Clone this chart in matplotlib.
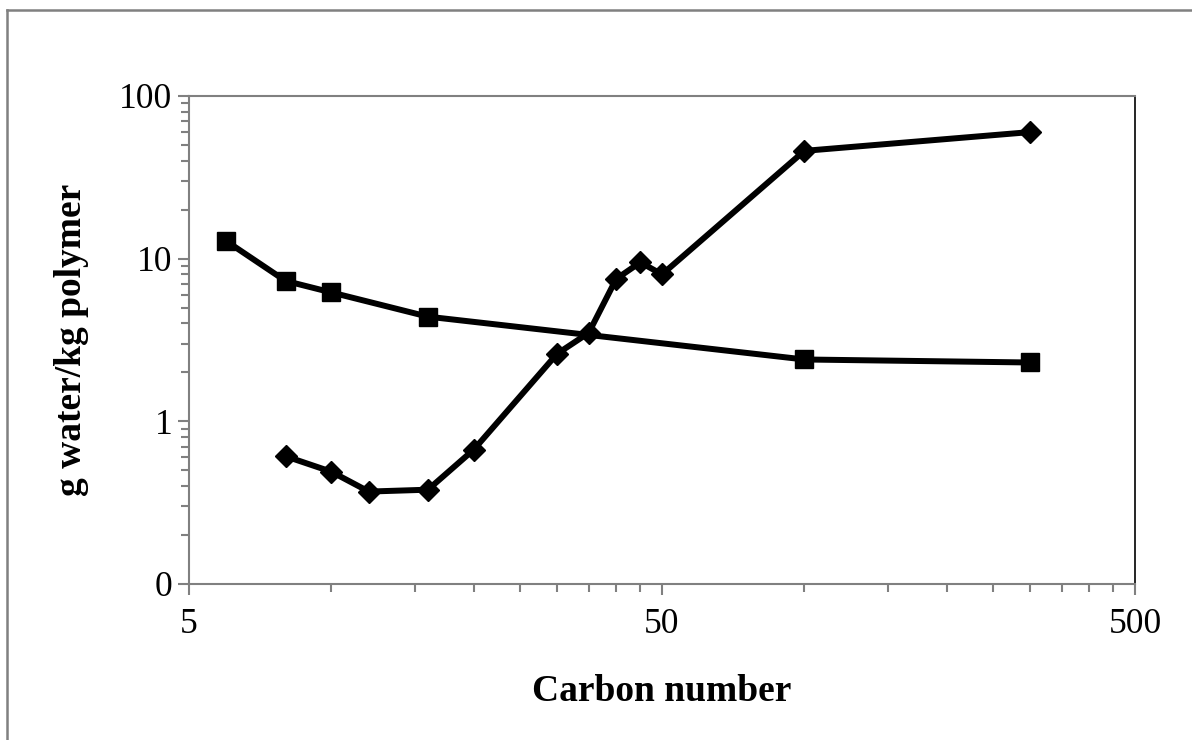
import matplotlib
matplotlib.use("Agg")
import matplotlib.pyplot as plt
from matplotlib.ticker import FixedLocator, FixedFormatter, LogLocator, NullFormatter
from matplotlib.lines import Line2D

plt.rcParams['font.family'] = ['Liberation Serif', 'DejaVu Serif']

# Data
square_x = [6, 8, 10, 16, 100, 300]
square_y = [12.8, 7.3, 6.2, 4.4, 2.4, 2.3]
diamond_x = [8, 10, 12, 16, 20, 30, 35, 40, 45, 50, 100, 300]
diamond_y = [0.61, 0.49, 0.37, 0.38, 0.67, 2.6, 3.5, 7.5, 9.5, 8.0, 46, 60]
x_ticks = [5, 50, 500]
x_tick_labels = ['5', '50', '500']
y_ticks = [0.1, 1, 10, 100]
y_tick_labels = ['0', '1', '10', '100']

fig = plt.figure(figsize=(11.92, 7.40), dpi=100)
ax = fig.add_axes([189/1192, 1 - 584/740, (1135 - 189)/1192, (584 - 96)/740])

ax.plot(square_x, square_y, color='black', lw=4.3, marker='s', ms=13,
        solid_joinstyle='miter', zorder=3)
ax.plot(diamond_x, diamond_y, color='black', lw=4.3, marker='D', ms=11,
        solid_joinstyle='miter', zorder=3)

ax.set_xscale('log')
ax.set_yscale('log')
ax.set_xlim(5, 500)
ax.set_ylim(0.1, 100)

# minor x ticks at multiples of the first major tick (Excel style)
x_minor = [m * k for m in (5, 50) for k in range(2, 10)]
ax.xaxis.set_major_locator(FixedLocator(x_ticks))
ax.xaxis.set_major_formatter(FixedFormatter(x_tick_labels))
ax.xaxis.set_minor_locator(FixedLocator(x_minor))
ax.xaxis.set_minor_formatter(NullFormatter())
ax.yaxis.set_major_locator(FixedLocator(y_ticks))
ax.yaxis.set_major_formatter(FixedFormatter(y_tick_labels))
ax.yaxis.set_minor_locator(LogLocator(base=10, subs=range(2, 10)))
ax.yaxis.set_minor_formatter(NullFormatter())

gray = '#808080'
for s in ['left', 'bottom', 'top']:
    ax.spines[s].set_color(gray)
    ax.spines[s].set_linewidth(1.5)
ax.spines['right'].set_color('black')
ax.spines['right'].set_linewidth(1.2)

ax.tick_params(which='both', direction='out', color=gray, width=1.5,
               labelsize=25.5, colors=gray, labelcolor='black')
ax.tick_params(axis='y', which='major', length=8, pad=4)
ax.tick_params(axis='x', which='major', length=8, pad=9)
ax.tick_params(axis='y', which='minor', length=6)
ax.tick_params(axis='x', which='minor', length=6)

ax.set_xlabel('Carbon number', fontsize=27, fontweight='bold', labelpad=24)
ax.set_ylabel('g water/kg polymer', fontsize=27, fontweight='bold', labelpad=22)

# outer frame (top and left visible)
fig.add_artist(Line2D([7/1192, 7/1192], [0, 1 - 10/740], transform=fig.transFigure,
                      color=gray, lw=1.8))
fig.add_artist(Line2D([7/1192, 1], [1 - 10/740, 1 - 10/740], transform=fig.transFigure,
                      color=gray, lw=1.8))

fig.savefig('out.png', dpi=100)
